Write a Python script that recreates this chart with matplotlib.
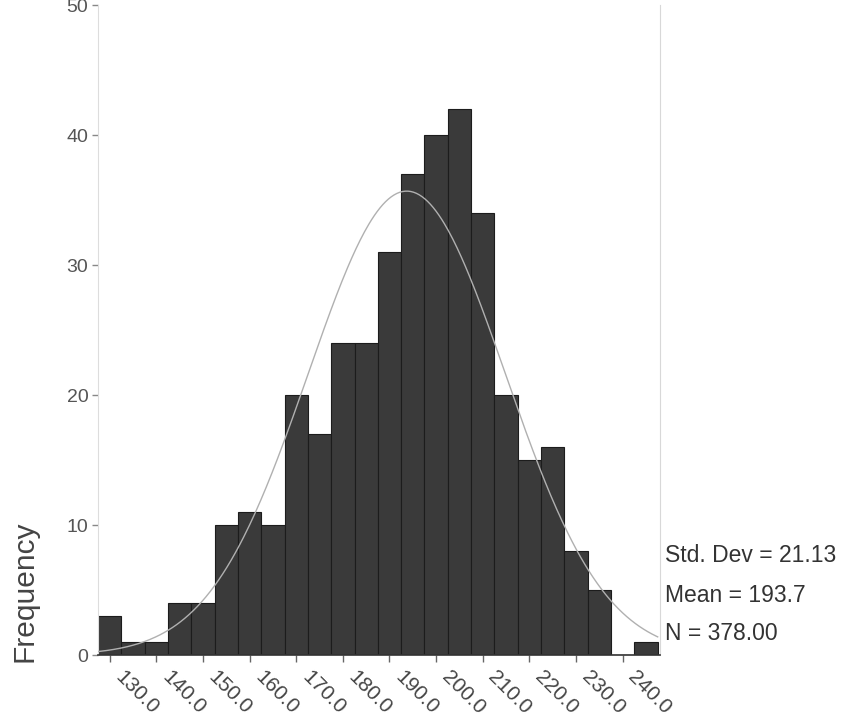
import numpy as np
import matplotlib
matplotlib.use('Agg')
import matplotlib.pyplot as plt

# bin midpoints (width 5) and counts
bin_centers = [130, 135, 140, 145, 150, 155, 160, 165, 170, 175, 180, 185,
               190, 195, 200, 205, 210, 215, 220, 225, 230, 235, 240, 245]
counts = [3, 1, 1, 4, 4, 10, 11, 10, 20, 17, 24, 24,
          31, 37, 40, 42, 34, 20, 15, 16, 8, 5, 0, 1]
tick_values = [130, 140, 150, 160, 170, 180, 190, 200, 210, 220, 230, 240]
y_ticks = [0, 10, 20, 30, 40, 50]

std_dev = 21.13
mean = 193.7
n_total = 378.00
bin_width = 5

plt.rcParams['font.family'] = ['Liberation Sans', 'DejaVu Sans']

fig = plt.figure(figsize=(8.45, 7.25), dpi=100)
ax = fig.add_axes([98 / 845, 70 / 725, 562 / 845, 650 / 725])

# fitted normal curve
xs = np.linspace(127.5, 247.5, 400)
ys = n_total * bin_width / (std_dev * np.sqrt(2 * np.pi)) * np.exp(-0.5 * ((xs - mean) / std_dev) ** 2)

ax.bar(bin_centers, counts, width=bin_width, color='#3a3a3a',
       edgecolor='#1c1c1c', linewidth=0.8, zorder=2)
ax.plot(xs, ys, color='#b0b0b0', lw=1.0, zorder=3)

ax.set_xlim(127.5, 248.0)
ax.set_ylim(0, 50)

ax.set_yticks(y_ticks)
ax.set_yticklabels([str(v) for v in y_ticks], fontsize=14, color='#555555')
ax.set_xticks(tick_values)
ax.set_xticklabels([])
# rotated x labels, nudged right of their ticks like the original
for v in tick_values:
    ax.annotate(f'{v:.1f}', xy=(v, 0), xycoords=('data', 'axes fraction'),
                xytext=(11, -9), textcoords='offset points', fontsize=15,
                color='#444444', rotation=-45, ha='left', va='top',
                rotation_mode='anchor', annotation_clip=False)

ax.tick_params(axis='y', direction='out', length=4, width=1, color='#888888', pad=3)
ax.tick_params(axis='x', direction='out', length=5, width=1, color='#666666')

ax.spines['top'].set_visible(False)
ax.spines['left'].set_color('#dddddd')
ax.spines['right'].set_color('#d8d8d8')
ax.spines['bottom'].set_color('#333333')
ax.spines['bottom'].set_linewidth(1.2)

fig.text(25 / 845, 1 - 591 / 725, 'Frequency', rotation=90, fontsize=21.5, color='#444444',
         ha='center', va='center')

stats = ['Std. Dev = 21.13', 'Mean = 193.7', 'N = 378.00']
stat_y = [555, 596, 633]
for s, yp in zip(stats, stat_y):
    fig.text(665 / 845, 1 - yp / 725, s, fontsize=16.5, color='#333333',
             ha='left', va='center')

fig.savefig('out.png', dpi=100)
